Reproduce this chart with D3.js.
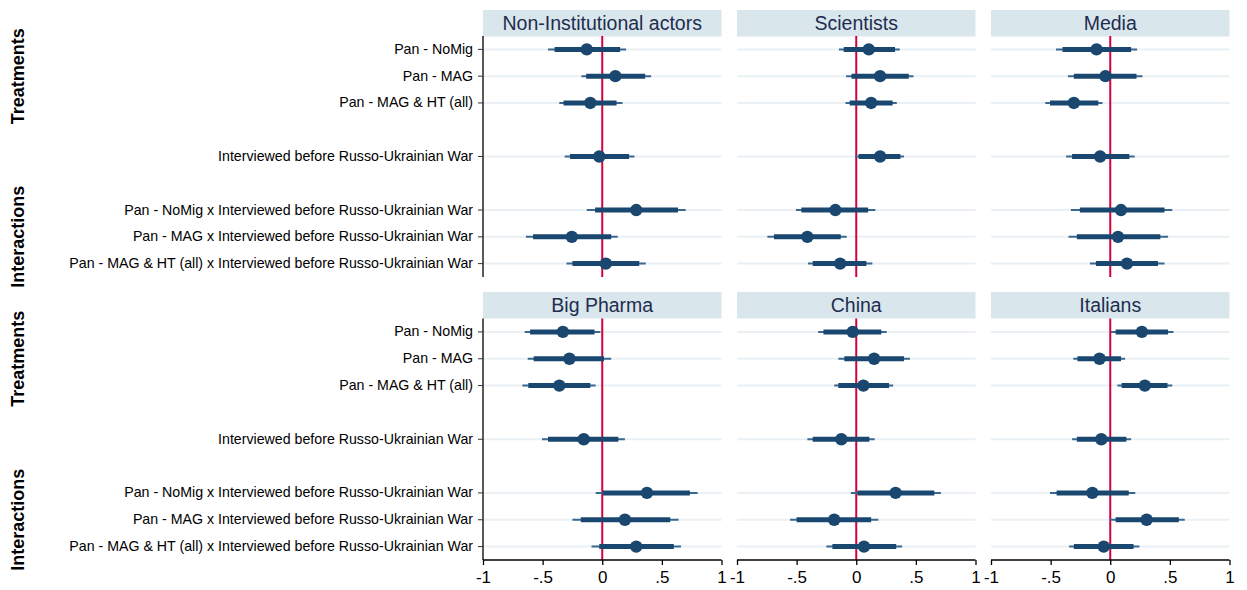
<!DOCTYPE html>
<html>
<head>
<meta charset="utf-8">
<script src="https://cdn.jsdelivr.net/npm/d3@7"></script>
<style>
  html, body { margin: 0; padding: 0; background: #fff; }
  svg { display: block; font-family: "Liberation Sans", Arial, Helvetica, sans-serif; }
</style>
</head>
<body>
<svg id="chart" width="1247" height="590"></svg>
<script>
// Coefficient labels (slot index within each panel; empty slots are spacers)
const rowLabels = [
  "Pan - NoMig",
  "Pan - MAG",
  "Pan - MAG & HT (all)",
  "Interviewed before Russo-Ukrainian War",
  "Pan - NoMig x Interviewed before Russo-Ukrainian War",
  "Pan - MAG x Interviewed before Russo-Ukrainian War",
  "Pan - MAG & HT (all) x Interviewed before Russo-Ukrainian War"
];
const rowSlots = [0, 1, 2, 4, 6, 7, 8];
const groupLabels = ["Treatments", "Interactions"];
const groupSlots = [1, 7];
const xTicks = [-1, -0.5, 0, 0.5, 1];
const xTickLabels = ["-1", "-.5", "0", ".5", "1"];

const panelTitles = ["Non-Institutional actors", "Scientists", "Media", "Big Pharma", "China", "Italians"];

// Each row: [estimate, lo90, hi90, lo95, hi95]
const nonInstitutional = [
  [-0.13, -0.40, 0.15, -0.455, 0.20],
  [0.11, -0.135, 0.36, -0.175, 0.41],
  [-0.10, -0.325, 0.12, -0.36, 0.17],
  [-0.025, -0.27, 0.225, -0.315, 0.27],
  [0.285, -0.06, 0.635, -0.13, 0.70],
  [-0.255, -0.58, 0.075, -0.64, 0.13],
  [0.03, -0.25, 0.31, -0.30, 0.365]
];
const scientists = [
  [0.105, -0.105, 0.325, -0.145, 0.365],
  [0.20, -0.04, 0.44, -0.085, 0.48],
  [0.125, -0.055, 0.305, -0.09, 0.34],
  [0.20, 0.02, 0.37, -0.01, 0.40],
  [-0.175, -0.46, 0.10, -0.505, 0.16],
  [-0.41, -0.69, -0.13, -0.745, -0.08],
  [-0.135, -0.365, 0.085, -0.405, 0.135]
];
const media = [
  [-0.115, -0.40, 0.175, -0.455, 0.225],
  [-0.04, -0.305, 0.22, -0.355, 0.27],
  [-0.305, -0.505, -0.10, -0.545, -0.065],
  [-0.085, -0.32, 0.16, -0.37, 0.205],
  [0.09, -0.255, 0.455, -0.33, 0.52],
  [0.065, -0.28, 0.42, -0.35, 0.485],
  [0.14, -0.12, 0.40, -0.17, 0.455]
];
const bigPharma = [
  [-0.33, -0.605, -0.065, -0.65, -0.015],
  [-0.275, -0.575, 0.015, -0.625, 0.075],
  [-0.36, -0.62, -0.10, -0.67, -0.055],
  [-0.155, -0.455, 0.135, -0.505, 0.19],
  [0.375, 0.005, 0.735, -0.055, 0.80],
  [0.19, -0.18, 0.57, -0.25, 0.64],
  [0.285, -0.025, 0.60, -0.09, 0.66]
];
const china = [
  [-0.03, -0.275, 0.21, -0.32, 0.255],
  [0.15, -0.10, 0.40, -0.15, 0.45],
  [0.06, -0.15, 0.275, -0.185, 0.31],
  [-0.125, -0.365, 0.11, -0.41, 0.155],
  [0.33, 0.01, 0.655, -0.045, 0.71],
  [-0.185, -0.50, 0.125, -0.555, 0.185],
  [0.065, -0.20, 0.335, -0.25, 0.385]
];
const italians = [
  [0.265, 0.045, 0.485, 0.005, 0.53],
  [-0.09, -0.275, 0.09, -0.31, 0.125],
  [0.29, 0.095, 0.48, 0.06, 0.52],
  [-0.075, -0.28, 0.135, -0.32, 0.175],
  [-0.15, -0.45, 0.155, -0.505, 0.21],
  [0.305, 0.045, 0.575, -0.005, 0.625],
  [-0.055, -0.305, 0.195, -0.345, 0.245]
];
const panelData = [nonInstitutional, scientists, media, bigPharma, china, italians];

// Layout
const colX = [483, 737, 991];
const panelW = 238.5;
const rowsTop = [
  { header: 10, plotTop: 36, plotBottom: 277 },
  { header: 292, plotTop: 318.5, plotBottom: 560 }
];
const headerH = 26.5;

const navy = "#1a476f";
const svg = d3.select("#chart");

panelData.forEach((data, p) => {
  const col = p % 3, row = Math.floor(p / 3);
  const L = rowsTop[row];
  const x = d3.scaleLinear().domain([-1, 1]).range([colX[col], colX[col] + panelW]);
  const y = d3.scaleBand().domain(d3.range(9)).range([L.plotTop, L.plotBottom]);
  const yc = s => y(s) + y.bandwidth() / 2;
  const g = svg.append("g");

  // header strip
  g.append("rect")
    .attr("x", x(-1)).attr("y", L.header)
    .attr("width", panelW).attr("height", headerH)
    .attr("fill", "#d9e6ec");
  g.append("text")
    .attr("x", x(0)).attr("y", L.header + headerH / 2 + 6.8)
    .attr("text-anchor", "middle")
    .attr("font-size", 19.5)
    .attr("fill", "#1e2d4f")
    .text(panelTitles[p]);

  // horizontal guide lines
  g.selectAll("line.grid").data(rowSlots).join("line")
    .attr("x1", x(-1)).attr("x2", x(1))
    .attr("y1", d => yc(d)).attr("y2", d => yc(d))
    .attr("stroke", "#eaf0f3").attr("stroke-width", 2);

  // zero reference line
  g.append("line")
    .attr("x1", x(0)).attr("x2", x(0))
    .attr("y1", L.plotTop).attr("y2", L.plotBottom)
    .attr("stroke", "#d4003c").attr("stroke-width", 2);

  const rows = data.map((d, i) => ({ slot: rowSlots[i], est: d[0], lo90: d[1], hi90: d[2], lo95: d[3], hi95: d[4] }));

  // 95% intervals
  g.selectAll("line.ci95").data(rows).join("line")
    .attr("x1", d => x(d.lo95)).attr("x2", d => x(d.hi95))
    .attr("y1", d => yc(d.slot)).attr("y2", d => yc(d.slot))
    .attr("stroke", "#3a6890").attr("stroke-width", 2);
  // 90% intervals
  g.selectAll("line.ci90").data(rows).join("line")
    .attr("x1", d => x(d.lo90)).attr("x2", d => x(d.hi90))
    .attr("y1", d => yc(d.slot)).attr("y2", d => yc(d.slot))
    .attr("stroke", navy).attr("stroke-width", 5);
  // point estimates
  g.selectAll("circle").data(rows).join("circle")
    .attr("cx", d => x(d.est)).attr("cy", d => yc(d.slot))
    .attr("r", 6.2).attr("fill", navy);

  // left axis with coefficient labels on the first column
  if (col === 0) {
    const yAxis = d3.axisLeft(y)
      .tickValues(rowSlots)
      .tickSize(5).tickPadding(5)
      .tickFormat(s => rowLabels[rowSlots.indexOf(s)]);
    const ax = svg.append("g").attr("transform", `translate(${x(-1)},0)`).call(yAxis);
    ax.select(".domain").attr("stroke", "#000").attr("stroke-width", 1.3)
      .attr("d", `M0,${L.plotTop}V${L.plotBottom}`);
    ax.selectAll(".tick line").attr("stroke", "#333");
    ax.selectAll(".tick text").attr("font-size", 14.2).attr("fill", "#000")
      .attr("font-family", "'Liberation Sans', Arial, sans-serif");

    groupLabels.forEach((lab, k) => {
      svg.append("text")
        .attr("transform", `translate(24,${yc(groupSlots[k])}) rotate(-90)`)
        .attr("text-anchor", "middle")
        .attr("font-size", 18).attr("font-weight", "bold").attr("fill", "#000")
        .text(lab);
    });
  }

  // bottom axis on the lower row
  if (row === 1) {
    const xAxis = d3.axisBottom(x)
      .tickValues(xTicks).tickSize(5).tickPadding(6)
      .tickFormat((d, i) => xTickLabels[i]);
    const ax = svg.append("g").attr("transform", `translate(0,${L.plotBottom})`).call(xAxis);
    ax.select(".domain").attr("stroke", "#000").attr("stroke-width", 1.3)
      .attr("d", `M${x(-1)},0H${x(1)}`);
    ax.selectAll(".tick line").attr("stroke", "#000").attr("stroke-width", 1.3);
    ax.selectAll(".tick text").attr("font-size", 17).attr("fill", "#000")
      .attr("font-family", "'Liberation Sans', Arial, sans-serif");
  }
});
</script>
</body>
</html>
